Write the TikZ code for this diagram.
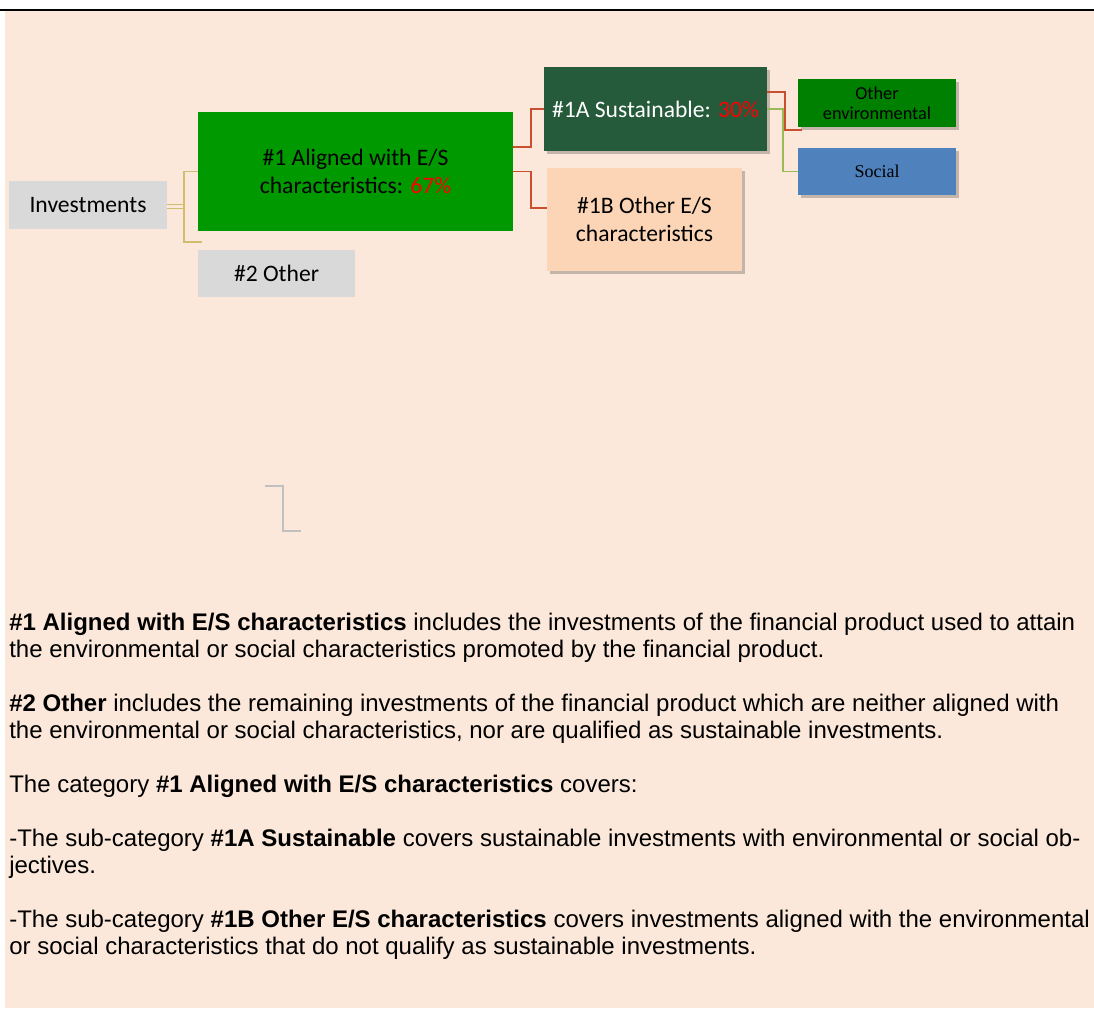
\documentclass[tikz,border=0pt]{standalone}
\usepackage{fontspec}
\setmainfont{Liberation Sans}
\newfontfamily\boxfont{Carlito}
\newfontfamily\serifbox{Liberation Serif}
\usetikzlibrary{shadows}
\definecolor{pagebg}{HTML}{FBE8DA}
\definecolor{boxgray}{HTML}{D9D9D9}
\definecolor{alignedgreen}{HTML}{009900}
\definecolor{sustgreen}{HTML}{255A3B}
\definecolor{otherpeach}{HTML}{FBD5B5}
\definecolor{envgreen}{HTML}{008000}
\definecolor{socialblue}{HTML}{4F81BD}
\definecolor{pctred}{HTML}{FF0000}
\definecolor{linered}{HTML}{C8502F}
\definecolor{linegreen}{HTML}{9BBB59}
\definecolor{linegold}{HTML}{D0BE6E}
\definecolor{linegray}{HTML}{C0C0C0}
\tikzset{
  catbox/.style={inner sep=0pt, align=center, font=\boxfont\fontsize{17.7}{20.5}\selectfont},
  smallbox/.style={inner sep=0pt, align=center, minimum width=118.5pt, font=\boxfont\fontsize{13.7}{15}\selectfont},
  shadowbox/.style={drop shadow={shadow xshift=2pt, shadow yshift=-2pt, opacity=0.22, fill=black}},
  goldline/.style={linegold, line width=0.9pt},
  redline/.style={linered, line width=1.4pt},
  greenline/.style={linegreen, line width=1.4pt},
  bodytext/.style={inner sep=0pt, align=left, font=\fontsize{18}{20.25}\selectfont}
}
\begin{document}
\begin{tikzpicture}[x=0.75pt,y=-0.75pt]
        \useasboundingbox (0,0) rectangle (1094,1008);
        % page
        \fill[pagebg] (5,11) rectangle (1094,1008);
        \draw[line width=1.4pt] (0,10) -- (1094,10);
        % boxes
        \node[catbox, fill=boxgray, minimum width=118.5pt, minimum height=36pt] (inv) at (88,205) {Investments};
        \node[catbox, fill=alignedgreen, minimum width=236.25pt, minimum height=89.25pt] (one) at (355.5,171.5) {\#1 Aligned with E/S\\characteristics: {\color{pctred}67\%}};
        \node[catbox, fill=boxgray, minimum width=117.75pt, minimum height=35.25pt] (two) at (276.5,273.5) {\#2 Other};
        \node[catbox, shadowbox, fill=sustgreen, text=white, minimum width=167.25pt, minimum height=63pt] (onea) at (655.5,109) {\#1A Sustainable: {\color{pctred}30\%}};
        \node[catbox, shadowbox, fill=otherpeach, minimum width=146.25pt, minimum height=77.25pt] (oneb) at (644.5,219.5) {\#1B Other E/S\\characteristics};
        \node[smallbox, shadowbox, fill=envgreen, minimum height=36pt] (env) at (877,103) {Other\\environmental};
        \node[smallbox, shadowbox, fill=socialblue, minimum height=35.25pt, font=\serifbox\fontsize{13.5}{15}\selectfont] (social) at (877,171.5) {Social};
        % connectors
        \coordinate (joinbot) at (184,242);
        \coordinate (botend) at (202,242);
        \coordinate (redend) at (802,130);
        \draw[goldline] ([yshift=0.6pt]inv.east) -- ([yshift=0.6pt]inv.east -| joinbot);
        \draw[goldline] ([yshift=-2.4pt]inv.east) -- ([yshift=-2.4pt]inv.east -| joinbot);
        \draw[goldline] (one.west) -| (joinbot) -- (botend);
        \draw[redline] ([yshift=18.4pt]one.east) -- ++(18,0) |- (onea.west);
        \draw[redline] (one.east) -- ++(18,0) |- ([yshift=8.6pt]oneb.west);
        \draw[redline] ([yshift=12.75pt]onea.east) -- ++(18,0) |- (redend);
        \draw[greenline] (onea.east) -- ++(16,0) |- (social.west);
        % stray mark
        \draw[linegray, line width=1.1pt] (265,486) -- (283,486) -- (283,531) -- (301,531);
        % notes
        \node[bodytext, anchor=north west] (notes) at (9,612.5) {\textbf{\#1 Aligned with E/S characteristics} includes the investments of the financial product used to attain\\
the environmental or social characteristics promoted by the financial product.\\[20.25pt]
\textbf{\#2 Other} includes the remaining investments of the financial product which are neither aligned with\\
the environmental or social characteristics, nor are qualified as sustainable investments.\\[20.25pt]
The category \textbf{\#1 Aligned with E/S characteristics} covers:\\[20.25pt]
-The sub-category \textbf{\#1A Sustainable} covers sustainable investments with environmental or social ob-\\
jectives.\\[20.25pt]
-The sub-category \textbf{\#1B Other E/S characteristics} covers investments aligned with the environmental\\
or social characteristics that do not qualify as sustainable investments.};
\end{tikzpicture}
\end{document}
